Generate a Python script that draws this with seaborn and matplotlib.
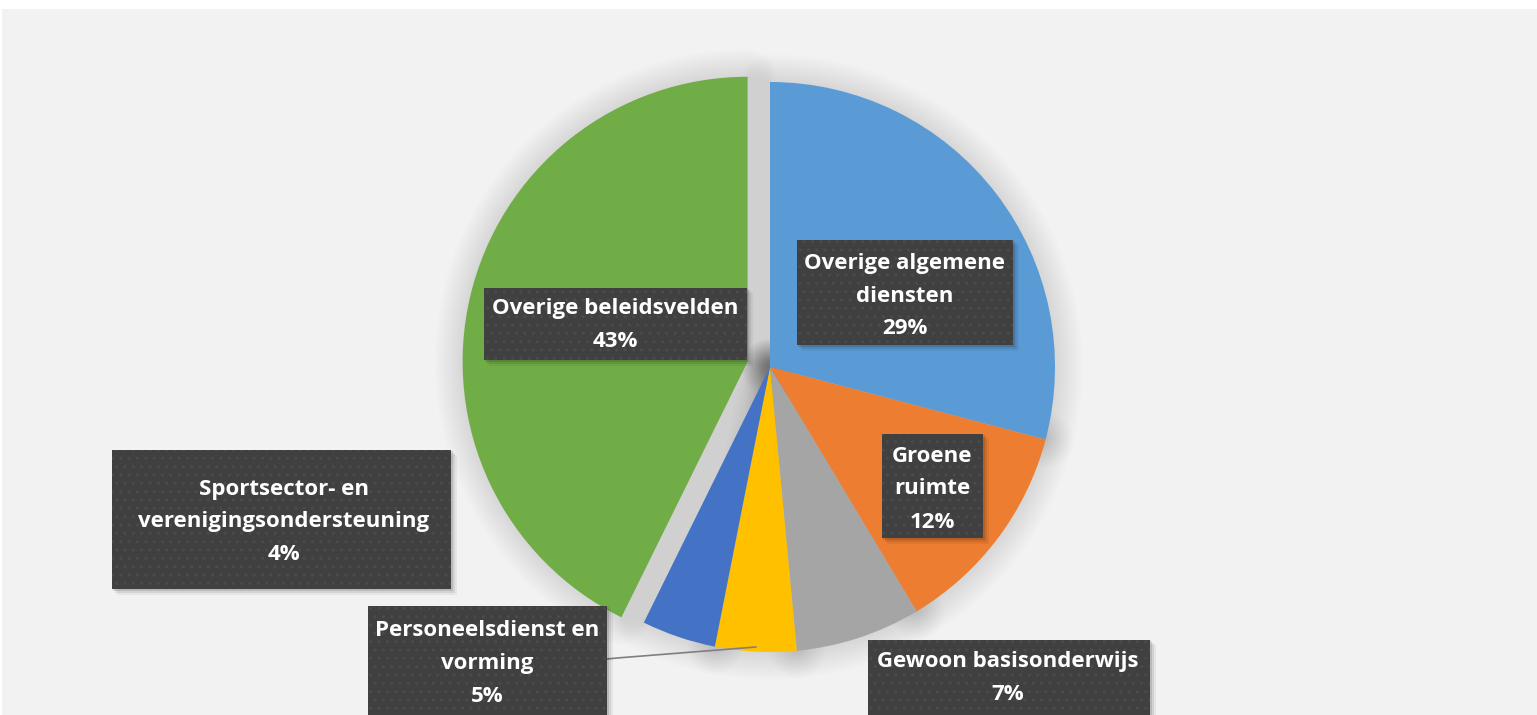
import matplotlib
matplotlib.use("Agg")
import matplotlib.pyplot as plt
from matplotlib.patches import Rectangle
import seaborn as sns

# data (clockwise from the top)
categories = ["Overige algemene\ndiensten", "Groene\nruimte", "Gewoon basisonderwijs",
              "Personeelsdienst en\nvorming", "Sportsector- en\nverenigingsondersteuning",
              "Overige beleidsvelden"]
shares = [29.1, 12.3, 7.1, 4.6, 4.2, 42.7]
colors = ["#5B9BD5", "#ED7D31", "#A5A5A5", "#FFC000", "#4472C4", "#70AD47"]

sns.set_theme(style="white")
plt.rcParams['font.family'] = ['Open Sans', 'DejaVu Sans']

W, H = 1537, 715
fig = plt.figure(figsize=(W / 100, H / 100), dpi=100, facecolor="white")
ax = fig.add_axes([0, 0, 1, 1])


def fy(y):
    # pixel row from the top -> data y
    return H - y


# grey chart area
ax.add_patch(Rectangle((2, 0), W - 2, fy(9), facecolor="#F2F2F2", edgecolor="none", zorder=0))

center = (770, fy(367))
radius = 285
explode = [0, 0, 0, 0, 0, 23]

# soft shadow around the wedges
for lw in range(40, 0, -3):
    ax.pie(shares, startangle=90, counterclock=False, center=center, radius=radius,
           explode=explode, colors=["none"] * len(shares),
           wedgeprops=dict(edgecolor=(0, 0, 0, 0.0075), linewidth=lw, joinstyle="round", zorder=1))

wedges, _ = ax.pie(shares, startangle=90, counterclock=False, center=center, radius=radius,
                   explode=explode, colors=colors,
                   wedgeprops=dict(linewidth=0, zorder=2))

# label boxes: (x0, y0, x1, y1) in pixels from top-left, and text centre
boxes = [(797, 240, 1013, 345), (882, 434, 983, 538), (868, 640, 1150, 718),
         (368, 606, 607, 718), (112, 450, 451, 589), (484, 288, 747, 360)]
text_pos = [(905, 296), (932, 489), (1008, 678), (487, 663), (284, 522), (615, 325)]

# leader line for Personeelsdienst
ax.plot([607, 617, 756], [fy(659), fy(658), fy(647)], color="#7F7F7F", lw=1.2, zorder=3)

for name, val, (x0, y0, x1, y1), (tx, ty) in zip(categories, shares, boxes, text_pos):
    # blurred drop shadow
    for d, a in [(6, 0.05), (4, 0.08), (2, 0.12)]:
        ax.add_patch(Rectangle((x0 + d - 1, fy(y1) - d), x1 - x0 + 1, y1 - y0 + 1,
                               facecolor="black", alpha=a, edgecolor="none", zorder=3.5))
    ax.add_patch(Rectangle((x0, fy(y1)), x1 - x0, y1 - y0, facecolor="#404040",
                           edgecolor="#4B4B4B", linewidth=0, hatch="..", zorder=4))
    ax.text(tx, fy(ty), f"{name}\n{round(val)}%", ha="center", va="center",
            color="white", fontsize=16, fontweight="bold", linespacing=1.75, zorder=5)

ax.set_xlim(0, W)
ax.set_ylim(0, H)
ax.set_aspect("equal")
ax.axis("off")

fig.savefig("out.png", dpi=100, facecolor="white")
